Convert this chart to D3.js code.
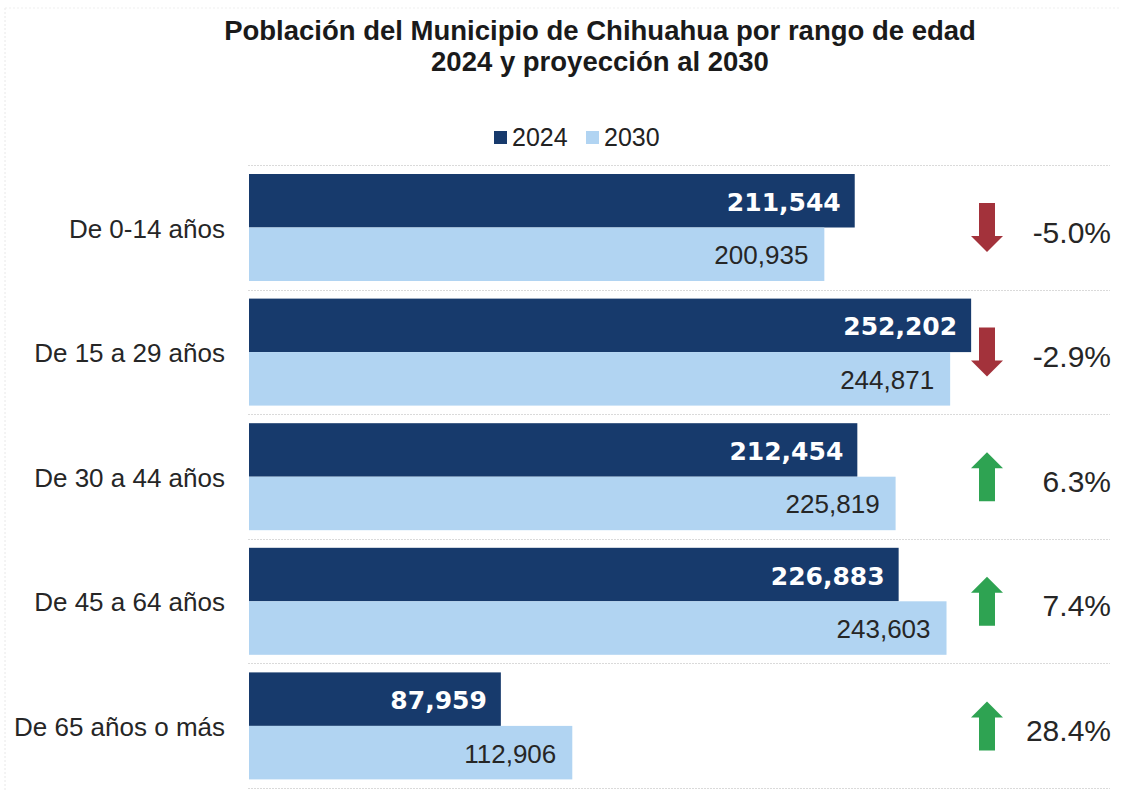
<!DOCTYPE html>
<html>
<head>
<meta charset="utf-8">
<script src="https://cdn.jsdelivr.net/npm/d3@7"></script>
<style>
  html, body { margin: 0; padding: 0; background: #fff; }
  svg { display: block; font-family: "Liberation Sans", Arial, sans-serif; }
</style>
</head>
<body>
<svg id="chart" width="1129" height="797"></svg>
<script>
const categories = ["De 0-14 años", "De 15 a 29 años", "De 30 a 44 años", "De 45 a 64 años", "De 65 años o más"];
const values2024 = [211544, 252202, 212454, 226883, 87959];
const values2030 = [200935, 244871, 225819, 243603, 112906];
const changeLabels = ["-5.0%", "-2.9%", "6.3%", "7.4%", "28.4%"];
const changeDirection = ["down", "down", "up", "up", "up"];
const seriesNames = ["2024", "2030"];

const colors = { "2024": "#173a6c", "2030": "#b1d4f2" };
const arrowColors = { down: "#a3323b", up: "#2ea352" };

const svg = d3.select("#chart");

// faint frame
svg.append("line").attr("x1", 5).attr("x2", 5).attr("y1", 8).attr("y2", 790)
  .attr("stroke", "#e8e8e8").attr("stroke-dasharray", "2,2");
svg.append("line").attr("x1", 5).attr("x2", 1120).attr("y1", 8).attr("y2", 8)
  .attr("stroke", "#efefef").attr("stroke-dasharray", "2,2");

// Title
const title = svg.append("text").attr("text-anchor", "middle")
  .attr("font-weight", "bold").attr("font-size", 27.5).attr("fill", "#1a1a1a");
title.append("tspan").attr("x", 600).attr("y", 40).text("Población del Municipio de Chihuahua por rango de edad");
title.append("tspan").attr("x", 600).attr("y", 71).text("2024 y proyección al 2030");

// Legend
const legend = svg.append("g");
const legendX = d3.scaleOrdinal().domain(seriesNames).range([494, 586]);
seriesNames.forEach(name => {
  legend.append("rect").attr("x", legendX(name)).attr("y", 131).attr("width", 13).attr("height", 13)
    .attr("fill", colors[name]);
  legend.append("text").attr("x", legendX(name) + 18).attr("y", 146).attr("font-size", 25)
    .attr("fill", "#222").text(name);
});

// Scales
const x = d3.scaleLinear().domain([0, 300000]).range([249, 1108]);
const y = d3.scaleBand().domain(categories).range([165, 788]).paddingInner(0).paddingOuter(0);
const inner = d3.scaleBand().domain(seriesNames).range([9, 116]).padding(0);

// separators
const seps = [165].concat(categories.map(c => y(c) + y.bandwidth()));
svg.append("g").selectAll("line").data(seps).join("line")
  .attr("x1", 248).attr("x2", 1110)
  .attr("y1", d => Math.round(d) + 0.5).attr("y2", d => Math.round(d) + 0.5)
  .attr("stroke", "#dadada").attr("stroke-width", 1).attr("stroke-dasharray", "2,1");

const data = categories.map((c, i) => ({
  cat: c, v: { "2024": values2024[i], "2030": values2030[i] },
  change: changeLabels[i], dir: changeDirection[i]
}));

const groups = svg.append("g").selectAll("g.grp").data(data).join("g")
  .attr("class", "grp").attr("transform", d => `translate(0,${y(d.cat)})`);

groups.selectAll("rect.bar").data(d => seriesNames.map(s => ({ s, v: d.v[s] }))).join("rect")
  .attr("class", "bar")
  .attr("x", x(0)).attr("y", d => inner(d.s))
  .attr("width", d => x(d.v) - x(0)).attr("height", inner.bandwidth())
  .attr("fill", d => colors[d.s]);

const fmt = d3.format(",");
groups.selectAll("text.val").data(d => seriesNames.map(s => ({ s, v: d.v[s] }))).join("text")
  .attr("class", "val")
  .attr("x", d => x(d.v) - (d.s === "2024" ? 14 : 16))
  .attr("y", d => inner(d.s) + inner.bandwidth() / 2 + 10)
  .attr("text-anchor", "end")
  .attr("font-family", d => d.s === "2024" ? "'DejaVu Sans', sans-serif" : null)
  .attr("font-size", d => d.s === "2024" ? 25 : 26)
  .attr("font-weight", d => d.s === "2024" ? "bold" : "normal")
  .attr("fill", d => d.s === "2024" ? "#ffffff" : "#262626")
  .text(d => fmt(d.v));

const midY = (inner.range()[0] + inner.range()[1]) / 2;

// Category labels
groups.append("text")
  .attr("x", 225).attr("y", midY + 10)
  .attr("text-anchor", "end").attr("font-size", 26).attr("fill", "#262626")
  .text(d => d.cat);

// Arrows
const arrowX = 987;
groups.append("path")
  .attr("d", d => {
    const cy = midY;
    const sw = 8, hw = 16, len = 49, hl = 16;
    const t = cy - len / 2, b = cy + len / 2;
    if (d.dir === "down") {
      return `M${arrowX - sw},${t} L${arrowX + sw},${t} L${arrowX + sw},${b - hl} L${arrowX + hw},${b - hl} L${arrowX},${b} L${arrowX - hw},${b - hl} L${arrowX - sw},${b - hl} Z`;
    }
    return `M${arrowX - sw},${b} L${arrowX + sw},${b} L${arrowX + sw},${t + hl} L${arrowX + hw},${t + hl} L${arrowX},${t} L${arrowX - hw},${t + hl} L${arrowX - sw},${t + hl} Z`;
  })
  .attr("fill", d => arrowColors[d.dir]);

// Percent labels
groups.append("text")
  .attr("x", 1111).attr("y", midY + 15)
  .attr("text-anchor", "end").attr("font-size", 30).attr("fill", "#262626")
  .text(d => d.change);
</script>
</body>
</html>
